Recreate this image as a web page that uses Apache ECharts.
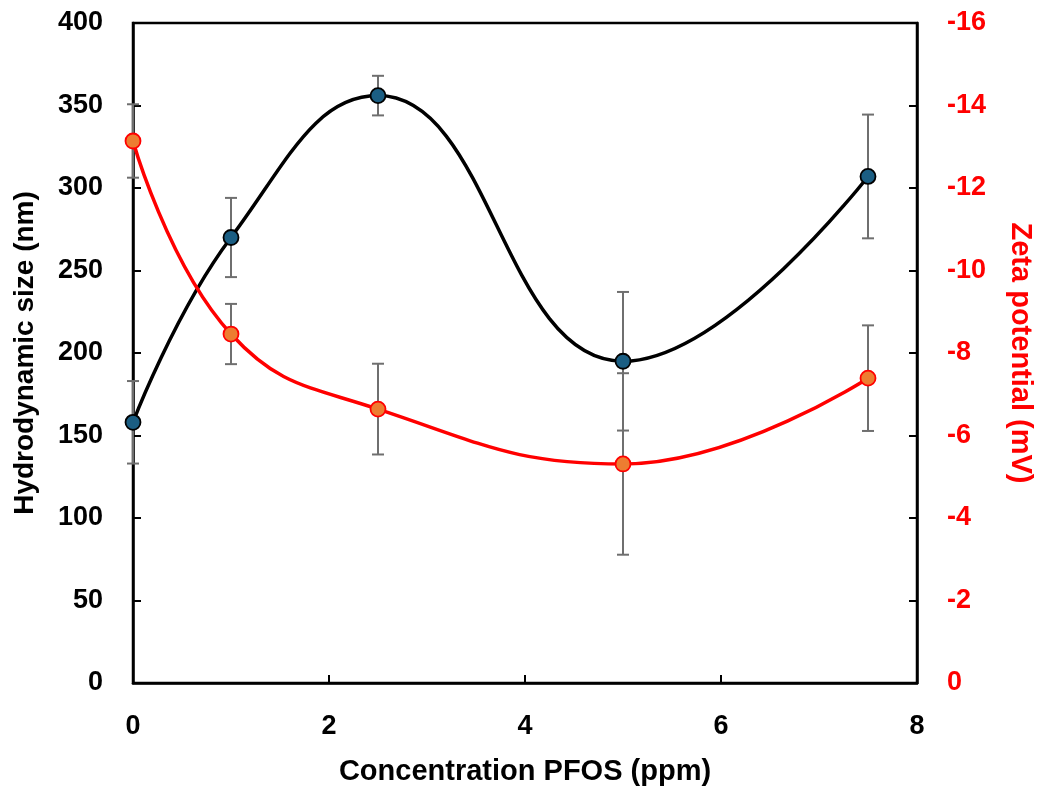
<!DOCTYPE html>
<html>
<head>
<meta charset="utf-8">
<script src="https://cdn.jsdelivr.net/npm/echarts@6/dist/echarts.min.js"></script>
<style>
html,body{margin:0;padding:0;background:#fff;}
#chart{width:1038px;height:787px;}
</style>
</head>
<body>
<div id="chart"></div>
<script>
var concentration = [0, 1, 2.5, 5, 7.5];
var hydroSize = [158, 270, 356, 195, 307];
var hydroErr = [25, 24, 12, 42, 37.5];
var zeta = [-13.14, -8.46, -6.64, -5.31, -7.39];
var zetaErr = [0.89, 0.73, 1.1, 2.2, 1.28];
var leftTicks = {min: 0, max: 400, interval: 50};
var rightTicks = {min: -16, max: 0, interval: 2};
var xTicks = {min: 0, max: 8, interval: 2};

var FONT = '"Liberation Sans", Arial, sans-serif';

function pairs(xs, ys) { return xs.map(function (x, i) { return [x, ys[i]]; }); }
function errData(xs, ys, es) { return xs.map(function (x, i) { return [x, ys[i] - es[i], ys[i] + es[i]]; }); }

function errRender(params, api) {
  var x = api.value(0);
  var lo = api.coord([x, api.value(1)]);
  var hi = api.coord([x, api.value(2)]);
  var cap = 6;
  var st = {stroke: '#6f6f6f', lineWidth: 2};
  return {
    type: 'group',
    children: [
      {type: 'line', shape: {x1: lo[0], y1: lo[1], x2: hi[0], y2: hi[1]}, style: st},
      {type: 'line', shape: {x1: lo[0] - cap, y1: lo[1], x2: lo[0] + cap, y2: lo[1]}, style: st},
      {type: 'line', shape: {x1: hi[0] - cap, y1: hi[1], x2: hi[0] + cap, y2: hi[1]}, style: st}
    ]
  };
}

var chart = echarts.init(document.getElementById('chart'), null, {renderer: 'canvas'});
chart.setOption({
  animation: false,
  backgroundColor: '#ffffff',
  grid: {left: 133, right: 121, top: 23, bottom: 104, outerBoundsMode: 'none', containLabel: false,
    show: true, borderColor: '#000', borderWidth: 2.5, backgroundColor: 'transparent'},
  xAxis: {
    type: 'value', min: xTicks.min, max: xTicks.max, interval: xTicks.interval,
    name: 'Concentration PFOS (ppm)', nameLocation: 'middle', nameGap: 74,
    nameTextStyle: {color: '#000', fontFamily: FONT, fontWeight: 'bold', fontSize: 29},
    axisLine: {show: true, lineStyle: {color: '#000', width: 2.5}},
    axisTick: {show: true, inside: true, length: 8, lineStyle: {color: '#000', width: 2}},
    axisLabel: {color: '#000', fontFamily: FONT, fontWeight: 'bold', fontSize: 27, margin: 30},
    splitLine: {show: false}
  },
  yAxis: [{
    type: 'value', min: leftTicks.min, max: leftTicks.max, interval: leftTicks.interval,
    name: 'Hydrodynamic size (nm)', nameLocation: 'middle', nameGap: 94, nameRotate: 90,
    nameTextStyle: {color: '#000', fontFamily: FONT, fontWeight: 'bold', fontSize: 28},
    axisLine: {show: true, lineStyle: {color: '#000', width: 2.5}},
    axisTick: {show: true, inside: true, length: 8, lineStyle: {color: '#000', width: 2}},
    axisLabel: {color: '#000', fontFamily: FONT, fontWeight: 'bold', fontSize: 27, margin: 30},
    splitLine: {show: false}
  }, {
    type: 'value', min: rightTicks.min, max: rightTicks.max, interval: rightTicks.interval, inverse: true,
    position: 'right',
    name: 'Zeta potential (mV)', nameLocation: 'middle', nameGap: 88, nameRotate: -90,
    nameTextStyle: {color: '#ff0000', fontFamily: FONT, fontWeight: 'bold', fontSize: 29},
    axisLine: {show: true, lineStyle: {color: '#000', width: 2.5}},
    axisTick: {show: true, inside: true, length: 8, lineStyle: {color: '#000', width: 2}},
    axisLabel: {color: '#ff0000', fontFamily: FONT, fontWeight: 'bold', fontSize: 27, margin: 30},
    splitLine: {show: false}
  }],
  series: [
    {type: 'custom', yAxisIndex: 0, renderItem: errRender, data: errData(concentration, hydroSize, hydroErr), z: 1, silent: true},
    {type: 'custom', yAxisIndex: 1, renderItem: errRender, data: errData(concentration, zeta, zetaErr), z: 1, silent: true},
    {type: 'line', yAxisIndex: 0, data: pairs(concentration, hydroSize), smooth: 0.45, z: 3,
      lineStyle: {color: '#000', width: 3.5},
      symbol: 'circle', symbolSize: 15,
      itemStyle: {color: '#1b5e83', borderColor: '#000', borderWidth: 1.8}},
    {type: 'line', yAxisIndex: 1, data: pairs(concentration, zeta), smooth: 0.45, z: 4,
      lineStyle: {color: '#ff0000', width: 3.5},
      symbol: 'circle', symbolSize: 15,
      itemStyle: {color: '#ed7d31', borderColor: '#ff0000', borderWidth: 1.8}}
  ]
});
</script>
</body>
</html>
